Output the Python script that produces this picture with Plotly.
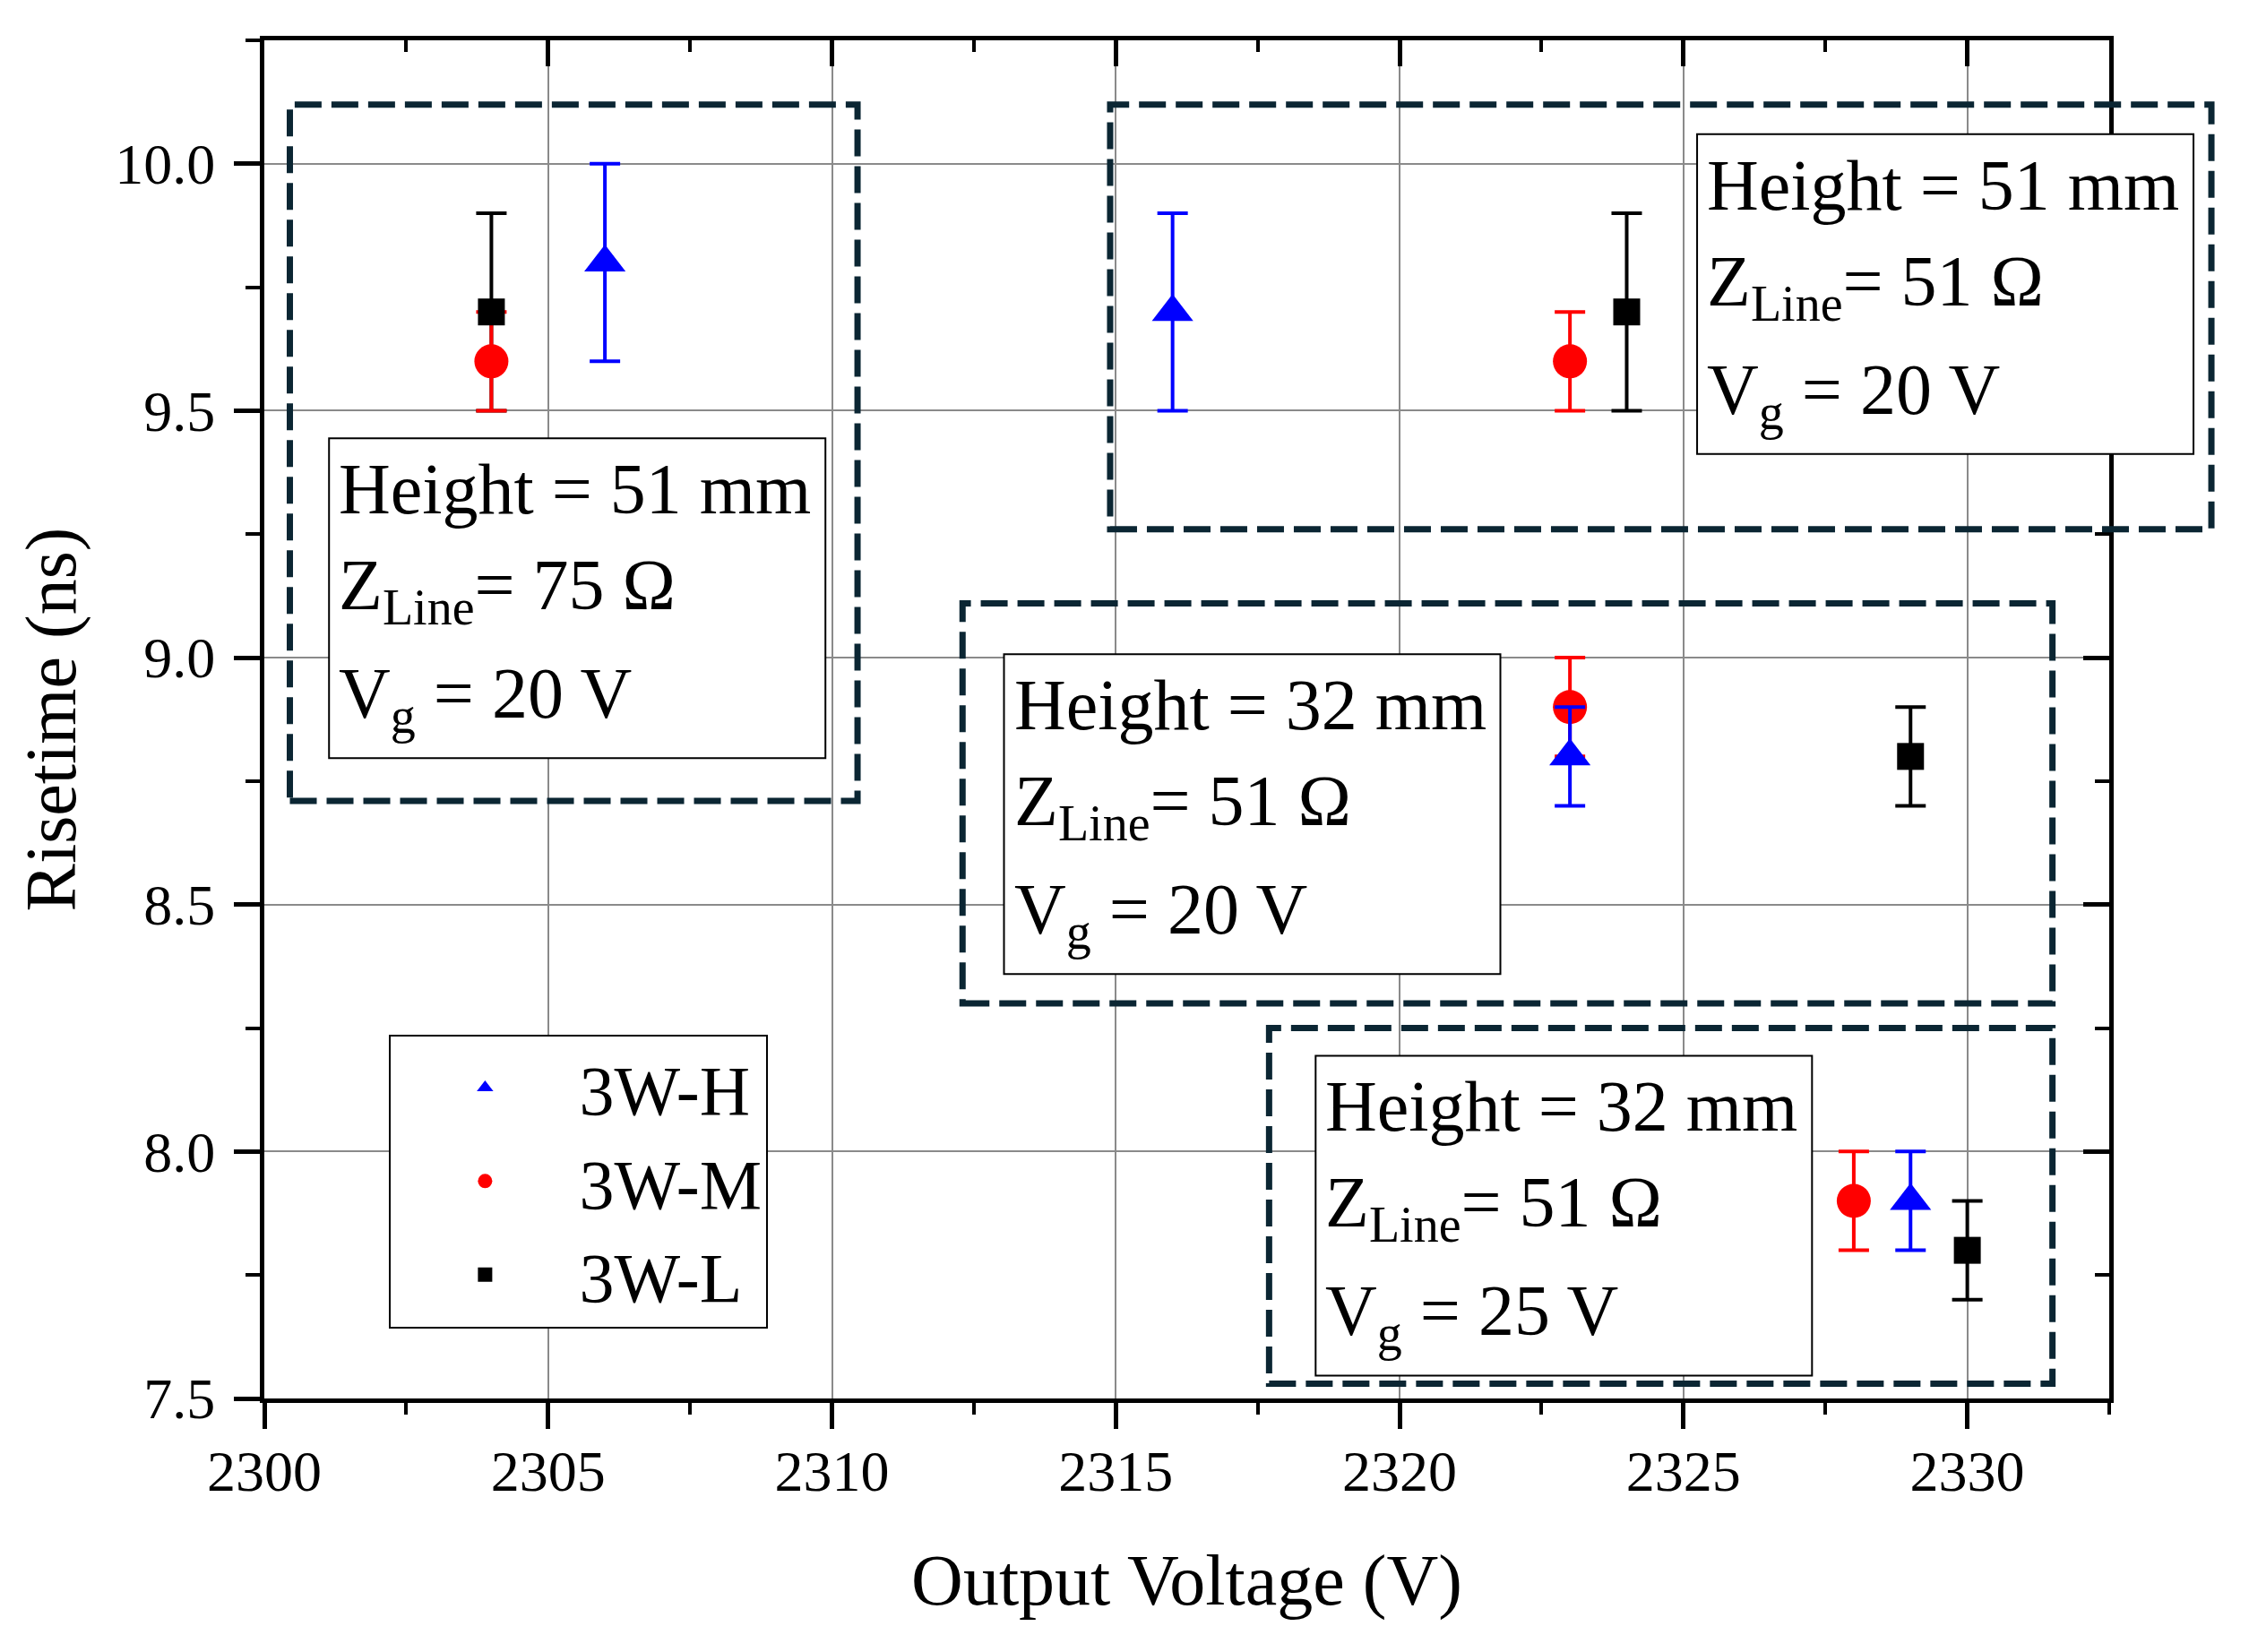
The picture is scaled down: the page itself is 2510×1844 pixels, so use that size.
import plotly.graph_objects as go

# ---------------- data ----------------
x_h = [2306, 2316, 2323, 2329]
y_h = [9.8, 9.7, 8.8, 7.9]
e_h = [0.2, 0.2, 0.1, 0.1]

x_m = [2304, 2323, 2323, 2328]
y_m = [9.6, 9.6, 8.9, 7.9]
e_m = [0.1, 0.1, 0.1, 0.1]

x_l = [2304, 2324, 2329, 2330]
y_l = [9.7, 9.7, 8.8, 7.8]
e_l = [0.2, 0.2, 0.1, 0.1]

box_texts = [
    ["Height = 51 mm", "Z<sub>Line</sub>= 75 Ω", "V<sub>g</sub> = 20 V"],
    ["Height = 51 mm", "Z<sub>Line</sub>= 51 Ω", "V<sub>g</sub> = 20 V"],
    ["Height = 32 mm", "Z<sub>Line</sub>= 51 Ω", "V<sub>g</sub> = 20 V"],
    ["Height = 32 mm", "Z<sub>Line</sub>= 51 Ω", "V<sub>g</sub> = 25 V"],
]

# ---------------- layout constants ----------------
W, H = 2510, 1844
ML, MR, MT, MB = 287, 164, 37, 291
PW, PH = W - ML - MR, H - MT - MB
XR = [2300, 2332.5]
YR = [7.5, 10.25]
FONT = "Liberation Serif"

def px(v):
    return (v - XR[0]) / (XR[1] - XR[0])

def py(v):
    return (v - YR[0]) / (YR[1] - YR[0])

fig = go.Figure()

# 3W-L error bars drawn first (below the other series)
fig.add_trace(go.Scatter(
    x=x_l, y=y_l, mode="markers", showlegend=False, hoverinfo="skip",
    marker=dict(color="rgba(0,0,0,0)", size=1),
    error_y=dict(type="data", array=e_l, visible=True, color="black",
                 thickness=4, width=17),
))
fig.add_trace(go.Scatter(
    x=x_m, y=y_m, mode="markers", name="3W-M", legendrank=2,
    marker=dict(color="#ff0000", symbol="circle", size=38, line=dict(width=0)),
    error_y=dict(type="data", array=e_m, visible=True, color="#ff0000",
                 thickness=4, width=17),
))
fig.add_trace(go.Scatter(
    x=x_h, y=y_h, mode="markers", name="3W-H", legendrank=1,
    marker=dict(color="#0000ff", symbol="triangle-up", size=40, line=dict(width=0)),
    error_y=dict(type="data", array=e_h, visible=True, color="#0000ff",
                 thickness=4, width=17),
))
fig.add_trace(go.Scatter(
    x=x_l, y=y_l, mode="markers", name="3W-L", legendrank=3,
    marker=dict(color="black", symbol="square", size=30, line=dict(width=0)),
))

# empty trace to host mirror axes
fig.add_trace(go.Scatter(x=[None], y=[None], xaxis="x2", yaxis="y2",
                         showlegend=False, hoverinfo="skip"))

# dashed group boxes (x0, x1, y0, y1)
dash_boxes = [
    (2300.45, 2310.45, 8.71, 10.12),
    (2314.9, 2334.3, 9.26, 10.12),
    (2312.3, 2331.5, 8.30, 9.11),
    (2317.7, 2331.5, 7.53, 8.25),
]
shapes = []
for x0, x1, y0, y1 in dash_boxes:
    shapes.append(dict(type="rect", xref="paper", yref="paper",
                       x0=px(x0), x1=px(x1), y0=py(y0), y1=py(y1),
                       line=dict(color="#0b2633", width=7, dash="30px,11px"),
                       fillcolor="rgba(0,0,0,0)", layer="above"))

# text boxes (top-left in data units), pixel size
tb_pos = [(2301.14, 9.444), (2325.24, 10.06), (2313.03, 9.007), (2318.52, 8.194)]
BW, BH = 554, 357
line_off = [57, 170, 291]   # px below box top (cap centre)
annotations = []
for (tx, ty), lines in zip(tb_pos, box_texts):
    x0 = px(tx)
    y1 = py(ty)
    shapes.append(dict(type="rect", xref="paper", yref="paper",
                       x0=x0, x1=x0 + BW / PW, y0=y1 - BH / PH, y1=y1,
                       line=dict(color="black", width=2),
                       fillcolor="white", layer="above"))
    for off, txt in zip(line_off, lines):
        annotations.append(dict(
            xref="paper", yref="paper", x=x0 + 10 / PW, y=y1 - off / PH,
            xanchor="left", yanchor="middle", showarrow=False,
            text=txt, align="left", borderpad=0,
            font=dict(family=FONT, size=80, color="black"),
        ))

axis_common = dict(showline=True, linewidth=5, linecolor="black",
                   tickcolor="black", tickwidth=5, ticklen=29, zeroline=False)

fig.update_layout(
    width=W, height=H,
    margin=dict(l=ML, r=MR, t=MT, b=MB),
    paper_bgcolor="white", plot_bgcolor="white",
    font=dict(family=FONT, color="black"),
    showlegend=True,
    legend=dict(x=px(2302.2), y=0.268, xanchor="left", yanchor="top",
                bgcolor="white", bordercolor="black", borderwidth=2,
                font=dict(family=FONT, size=78, color="black"),
                itemwidth=200, itemsizing="trace"),
    xaxis=dict(range=XR, tick0=2300, dtick=5, ticks="outside",
               showgrid=True, gridcolor="#8a8a8a", gridwidth=2,
               tickfont=dict(family=FONT, size=64, color="black"),
               ticklabelstandoff=-8,
               minor=dict(dtick=2.5, tick0=2300, ticks="outside", ticklen=13,
                          tickwidth=4, tickcolor="black", showgrid=False),
               title=dict(text="Output Voltage (V)",
                          font=dict(family=FONT, size=80, color="black"),
                          standoff=60),
               automargin=False, **axis_common),
    yaxis=dict(range=YR, tick0=7.5, dtick=0.5, ticks="outside", tickformat=".1f",
               showgrid=True, gridcolor="#8a8a8a", gridwidth=2,
               tickfont=dict(family=FONT, size=64, color="black"),
               ticklabelstandoff=8,
               minor=dict(dtick=0.25, tick0=7.5, ticks="outside", ticklen=16,
                          tickwidth=4, tickcolor="black", showgrid=False),
               title=dict(text="Risetime (ns)",
                          font=dict(family=FONT, size=80, color="black"),
                          standoff=19),
               automargin=False, **axis_common),
    xaxis2=dict(range=XR, overlaying="x", anchor="y", side="top",
                tick0=2300, dtick=5, ticks="inside", showticklabels=False,
                showgrid=False,
                minor=dict(dtick=2.5, tick0=2300, ticks="inside", ticklen=13,
                           tickwidth=4, tickcolor="black", showgrid=False),
                **axis_common),
    yaxis2=dict(range=YR, overlaying="y", anchor="x", side="right",
                tick0=7.5, dtick=0.5, ticks="inside", showticklabels=False,
                showgrid=False,
                minor=dict(dtick=0.25, tick0=7.5, ticks="inside", ticklen=16,
                           tickwidth=4, tickcolor="black", showgrid=False),
                **axis_common),
    shapes=shapes,
    annotations=annotations,
)

fig.write_html("out.html")
